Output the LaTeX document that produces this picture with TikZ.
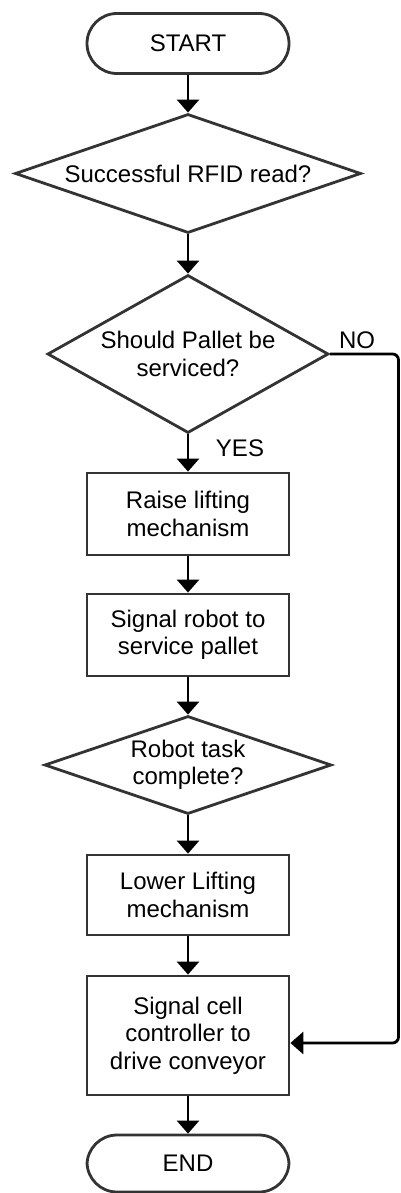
\documentclass[tikz,border=0pt]{standalone}
\usepackage{fontspec}
\setmainfont{Liberation Sans}
\usetikzlibrary{shapes.geometric,arrows.meta}
\definecolor{shapeline}{HTML}{333333}
\begin{document}
\begin{tikzpicture}[x=1pt,y=-1pt,
  every node/.style={font=\fontsize{24}{27.5}\selectfont, text=black},
  terminal/.style={draw=shapeline, line width=2.8pt, rectangle, rounded corners=30pt,
    minimum width=202pt, minimum height=60pt, inner sep=0pt},
  procbox/.style={draw=shapeline, line width=2.8pt, rectangle, minimum width=202pt,
    inner sep=0pt, align=center},
  decision/.style={draw=shapeline, line width=2.8pt, diamond, inner sep=0pt},
  dtext/.style={align=center, inner sep=0pt},
  flow/.style={line width=2.8pt, draw=black, -{Triangle[width=22pt,length=13pt]}},
  lbl/.style={inner sep=0pt}
]
\useasboundingbox[fill=white] (0,0) rectangle (401,1193);

\node[terminal] (start) at (188,43.5) {START};

\node[decision, minimum width=346pt, minimum height=119pt] (d1) at (188,173.5) {};
\node[dtext] (d1t) at (188,173.5) {Successful RFID read?};

\node[decision, minimum width=281pt, minimum height=158pt] (d2) at (188,354) {};
\node[dtext] (d2t) at (188,354) {Should Pallet be\\serviced?};

\node[procbox, minimum height=82pt] (b1) at (188,514) {Raise lifting\\mechanism};
\node[procbox, minimum height=82pt] (b2) at (188,635) {Signal robot to\\service pallet};

\node[decision, minimum width=287pt, minimum height=98pt] (d3) at (188,765) {};
\node[dtext] (d3t) at (188,765) {Robot task\\complete?};

\node[procbox, minimum height=80pt] (b3) at (188,895) {Lower Lifting\\mechanism};
\node[procbox, minimum height=119pt] (b4) at (188,1035.5) {Signal cell\\controller to\\drive conveyor};

\node[terminal, minimum height=57pt] (end) at (188,1163.5) {END};

\node[lbl] (yes) at (240,448) {YES};
\node[lbl] (no) at (357,340) {NO};

\coordinate (c1) at (398.5,354);
\coordinate (c2) at (398.5,1043);

\draw[flow] (start) -- (d1);
\draw[flow] (d1) -- (d2);
\draw[flow] (d2) -- (b1);
\draw[flow] (b1) -- (b2);
\draw[flow] (b2) -- (d3);
\draw[flow] (d3) -- (b3);
\draw[flow] (b3) -- (b4);
\draw[flow] (b4) -- (end);
\draw[flow, rounded corners=6pt] (d2.east) -- (c1) -- (c2) -- (c2 -| b4.east);
\end{tikzpicture}
\end{document}
